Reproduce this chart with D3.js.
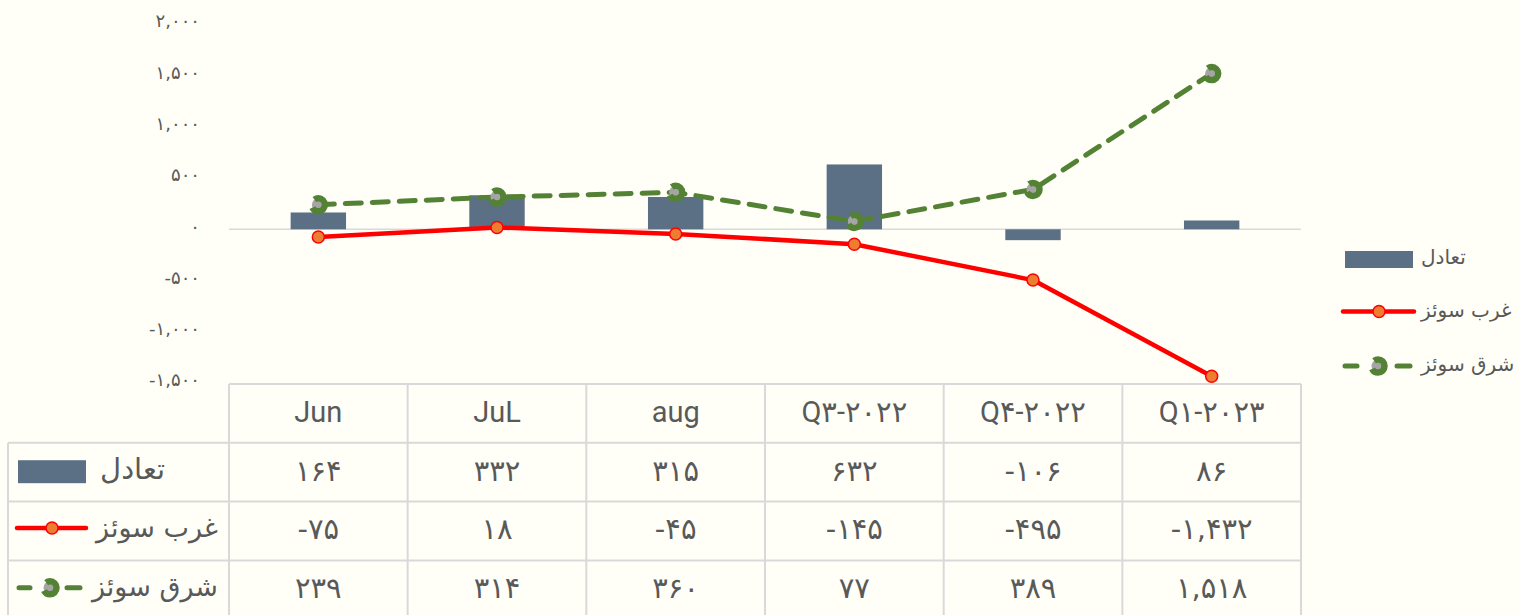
<!DOCTYPE html>
<html><head><meta charset="utf-8">
<script src="https://cdn.jsdelivr.net/npm/d3@7"></script>
<style>
html,body{margin:0;padding:0;background:#FFFFF8;}
svg{display:block;}
text{font-family:Roboto,"DejaVu Sans",sans-serif;fill:#595959;}
</style></head><body>
<svg id="c" width="1519" height="615"></svg>
<script>
const categories = ["Jun", "JuL", "aug", "Q۳-۲۰۲۲", "Q۴-۲۰۲۲", "Q۱-۲۰۲۳"];
const seriesNames = ["تعادل", "غرب سوئز", "شرق سوئز"];
const balance = [164, 332, 315, 632, -106, 86];
const westSuez = [-75, 18, -45, -145, -495, -1432];
const eastSuez = [239, 314, 360, 77, 389, 1518];
const yTicks = [-1500, -1000, -500, 0, 500, 1000, 1500, 2000];

const faDigits = "۰۱۲۳۴۵۶۷۸۹";
const fa = v => d3.format(",")(v).replace(/[0-9]/g, d => faDigits[+d]).replace("−", "-");

const svg = d3.select("#c");
const plotL = 229, plotR = 1301, plotT = 24.1, plotB = 384;
const rowH = 58.8;
const tableL = 8;

const x = d3.scaleBand().domain(categories).range([plotL, plotR]).padding(0);
const y = d3.scaleLinear().domain([-1500, 2000]).range([plotB - 0.8, plotT]);
const cx = c => x(c) + x.bandwidth() / 2;

const grid = "#D9D9D9";
const barColor = "#5B7085", red = "#FF0000", orange = "#ED7D31", green = "#548235", gray = "#A5A5A5";
const faFont = '"DejaVu Sans",sans-serif';

// zero line
svg.append("line").attr("x1", plotL).attr("x2", plotR).attr("y1", y(0)).attr("y2", y(0))
  .attr("stroke", grid).attr("stroke-width", 1.5);

// y axis labels
const yAxis = d3.axisLeft(y).tickValues(yTicks).tickFormat(fa).tickSize(0).tickPadding(0);
const ga = svg.append("g").attr("transform", `translate(200,-3)`).call(yAxis);
ga.select(".domain").remove();
ga.selectAll("text").style("font-size", "18px").attr("fill", "#595959").style("font-family", faFont);

// bars
const bw = x.bandwidth() * 0.31;
svg.append("g").selectAll("rect").data(balance).join("rect")
  .attr("x", (d, i) => cx(categories[i]) - bw / 2)
  .attr("width", bw)
  .attr("y", d => Math.min(y(d), y(0)))
  .attr("height", d => Math.abs(y(d) - y(0)))
  .attr("fill", barColor);

// west suez line
const line = d3.line().x((d, i) => cx(categories[i])).y(d => y(d));
svg.append("path").datum(westSuez).attr("d", line).attr("fill", "none")
  .attr("stroke", red).attr("stroke-width", 4.5).attr("stroke-linejoin", "round");
function redMarker(g, px, py) {
  g.append("circle").attr("cx", px).attr("cy", py).attr("r", 6)
    .attr("fill", orange).attr("stroke", red).attr("stroke-width", 1.5);
}
westSuez.forEach((d, i) => redMarker(svg, cx(categories[i]), y(d)));

// east suez line
svg.append("path").datum(eastSuez).attr("d", line).attr("fill", "none")
  .attr("stroke", green).attr("stroke-width", 5).attr("stroke-linecap", "round")
  .attr("stroke-dasharray", "16,11").attr("stroke-linejoin", "round");
function greenMarker(g, px, py) {
  g.append("circle").attr("cx", px).attr("cy", py).attr("r", 6.5)
    .attr("fill", gray).attr("stroke", green).attr("stroke-width", 6.5)
    .attr("stroke-dasharray", "32,8.8").attr("stroke-dashoffset", 15);
  g.append("circle").attr("cx", px).attr("cy", py).attr("r", 3).attr("fill", gray);
}
eastSuez.forEach((d, i) => greenMarker(svg, cx(categories[i]), y(d)));

// right legend
const lg = svg.append("g");
lg.append("rect").attr("x", 1345).attr("y", 251).attr("width", 68).attr("height", 17).attr("fill", barColor);
lg.append("line").attr("x1", 1343).attr("x2", 1414).attr("y1", 311.5).attr("y2", 311.5)
  .attr("stroke", red).attr("stroke-width", 4.5).attr("stroke-linecap", "round");
redMarker(lg, 1379, 311.5);
lg.append("line").attr("x1", 1345).attr("x2", 1357).attr("y1", 366).attr("y2", 366)
  .attr("stroke", green).attr("stroke-width", 5).attr("stroke-linecap", "round");
lg.append("line").attr("x1", 1397).attr("x2", 1410).attr("y1", 366).attr("y2", 366)
  .attr("stroke", green).attr("stroke-width", 5).attr("stroke-linecap", "round");
greenMarker(lg, 1378, 366);
[257, 309.5, 364].forEach((yy, i) => {
  lg.append("text").attr("x", 1421).attr("y", yy).attr("dy", "0.35em")
    .attr("text-anchor", "start").style("font-size", "20px").style("font-family", faFont)
    .text(seriesNames[i]);
});

// data table
const tg = svg.append("g");
const rowsY = [plotB, plotB + rowH, plotB + 2 * rowH, plotB + 3 * rowH, plotB + 4 * rowH];
tg.append("line").attr("x1", plotL).attr("x2", plotR).attr("y1", rowsY[0]).attr("y2", rowsY[0]);
for (let r = 1; r < 5; r++) tg.append("line").attr("x1", tableL).attr("x2", plotR).attr("y1", rowsY[r]).attr("y2", rowsY[r]);
tg.append("line").attr("x1", tableL).attr("x2", tableL).attr("y1", rowsY[1]).attr("y2", rowsY[4]);
const colEdges = categories.map(c => x(c)).concat([plotR]);
colEdges.forEach(ex => tg.append("line").attr("x1", ex).attr("x2", ex).attr("y1", rowsY[0]).attr("y2", rowsY[4]));
tg.selectAll("line").attr("stroke", grid).attr("stroke-width", 2);

// header
categories.forEach(c => {
  tg.append("text").attr("x", cx(c)).attr("y", rowsY[0] + rowH / 2 - 2).attr("dy", "0.36em")
    .attr("text-anchor", "middle").style("font-size", "29px").text(c);
});
// values
[balance, westSuez, eastSuez].forEach((arr, r) => {
  arr.forEach((v, i) => {
    tg.append("text").attr("x", cx(categories[i])).attr("y", rowsY[r + 1] + rowH / 2 - 2).attr("dy", "0.36em")
      .attr("text-anchor", "middle").style("font-size", "29px").style("font-family", faFont)
      .attr("direction", "ltr").text(fa(v));
  });
});
// row legends
const r1 = rowsY[1] + rowH / 2, r2 = rowsY[2] + rowH / 2, r3 = rowsY[3] + rowH / 2;
tg.append("rect").attr("x", 18).attr("y", r1 - 12).attr("width", 68).attr("height", 23).attr("fill", barColor);
tg.append("line").attr("x1", 17).attr("x2", 86).attr("y1", r2 - 3).attr("y2", r2 - 3)
  .attr("stroke", red).attr("stroke-width", 4.5).attr("stroke-linecap", "round");
redMarker(tg, 52, r2 - 3);
tg.append("line").attr("x1", 19).attr("x2", 30).attr("y1", r3 - 2).attr("y2", r3 - 2)
  .attr("stroke", green).attr("stroke-width", 5).attr("stroke-linecap", "round");
tg.append("line").attr("x1", 67).attr("x2", 80).attr("y1", r3 - 2).attr("y2", r3 - 2)
  .attr("stroke", green).attr("stroke-width", 5).attr("stroke-linecap", "round");
greenMarker(tg, 50, r3 - 2);
[[165, r1 - 4, 29], [218, r2 - 4, 27], [218, r3 - 4, 27]].forEach((p, i) => {
  tg.append("text").attr("x", p[0]).attr("y", p[1]).attr("dy", "0.36em")
    .attr("text-anchor", "end").style("font-size", p[2] + "px").style("font-family", faFont)
    .text(seriesNames[i]);
});
</script>
</body></html>
